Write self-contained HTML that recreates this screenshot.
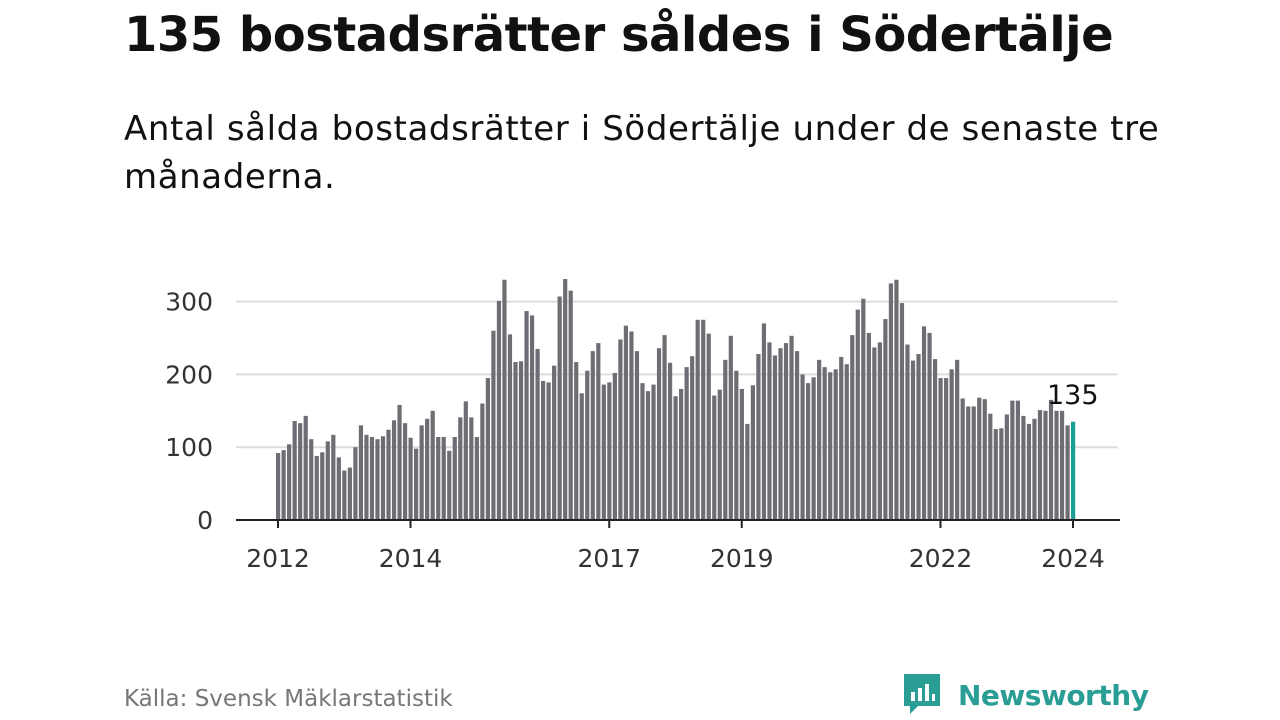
<!DOCTYPE html>
<html><head><meta charset="utf-8"><style>
body{margin:0;width:1280px;height:720px;background:#fff;font-family:"DejaVu Sans","Liberation Sans",sans-serif;overflow:hidden;position:relative;color:#111}
#title{position:absolute;left:124px;top:7px;font-size:48px;font-weight:bold;margin:0;letter-spacing:-0.5px;white-space:nowrap}
#sub{position:absolute;left:124px;top:105px;font-size:34px;line-height:48px;width:1060px;letter-spacing:0.6px}
#src{position:absolute;left:124px;top:686px;font-size:23px;color:#777}
#logo{position:absolute;left:902px;top:672px;display:flex;align-items:center;color:#2a9d95;font-size:28px;font-weight:bold;letter-spacing:-0.5px}
svg{position:absolute;left:0;top:0}
</style></head><body>
<h1 id="title">135 bostadsrätter såldes i Södertälje</h1>
<div id="sub">Antal sålda bostadsrätter i Södertälje under de senaste tre månaderna.</div>
<svg id="chart" width="1280" height="720"></svg>
<div id="src">Källa: Svensk Mäklarstatistik</div>
<div id="logo">
<svg style="position:static;margin-right:16px" width="40" height="46" viewBox="0 0 40 46"><path d="M2 2h36v32H16l-8 8v-8H2z" fill="#2a9d95"/><rect x="9" y="20" width="4" height="9" fill="#fff"/><rect x="16" y="16" width="4" height="13" fill="#fff"/><rect x="23" y="12" width="4" height="17" fill="#fff"/><rect x="30" y="22" width="3" height="7" fill="#fff"/></svg>Newsworthy</div>
<script>
const startYear = 2012;
const values = [92,96,104,136,133,143,111,88,93,108,117,86,68,72,100,130,117,114,111,115,124,137,158,133,113,98,130,139,150,114,114,95,114,141,163,141,114,160,195,260,301,330,255,217,218,287,281,235,191,189,
212,307,331,315,217,174,205,232,243,186,189,202,248,267,259,232,188,177,186,236,254,216,170,180,210,225,275,275,256,171,179,220,253,205,180,132,185,228,270,244,226,236,243,253,232,200,188,196,
220,210,203,207,224,214,254,289,304,257,237,244,276,325,330,298,241,219,228,266,257,221,195,195,207,220,167,156,156,168,166,146,125,126,145,164,164,143,132,139,151,150,165,150,150,130,135];
const yTicks = [0,100,200,300];
const xTickYears = [2012,2014,2017,2019,2022,2024];
const svg = document.getElementById('chart');
const NS = 'http://www.w3.org/2000/svg';
const x0 = 278, step = 795/144, y0 = 520, pxPer = 72.8/100;
const xScale = i => x0 + i*step;
const yScale = v => y0 - v*pxPer;
function mk(tag, attrs){const e=document.createElementNS(NS,tag);for(const k in attrs)e.setAttribute(k,attrs[k]);svg.appendChild(e);return e;}
yTicks.forEach(t=>{
  if(t>0){const g=mk('line',{x1:236,x2:1118,y1:yScale(t),y2:yScale(t),stroke:'#ddd','stroke-width':2});
  
  }
  const l=mk('text',{x:213,y:yScale(t)+9,'text-anchor':'end','font-size':25,fill:'#333','font-family':'DejaVu Sans, Liberation Sans, sans-serif'});
  l.textContent=t;
  
  
});
values.forEach((v,i)=>{
  const last=i===values.length-1;
  const r=mk('rect',{x:xScale(i)-2,y:yScale(v),width:4.2,height:v*pxPer,fill:last?'#1a9e96':'#6e6d73'});
  
  
});
const ax=mk('line',{x1:236,x2:1120,y1:y0,y2:y0,stroke:'#222','stroke-width':2});


xTickYears.forEach(y=>{
  const x=xScale((y-startYear)*12);
  const t=mk('line',{x1:x,x2:x,y1:y0,y2:y0+8,stroke:'#222','stroke-width':2});
  
  
  const l=mk('text',{x:x,y:567,'text-anchor':'middle','font-size':25,fill:'#333','font-family':'DejaVu Sans, Liberation Sans, sans-serif'});
  l.textContent=y;
  
  
});
const lastI=values.length-1;
const lab=mk('text',{x:xScale(lastI)-26,y:404,'font-size':27,fill:'#111','font-family':'DejaVu Sans, Liberation Sans, sans-serif'});
lab.textContent=values[lastI];


</script>
</body></html>
